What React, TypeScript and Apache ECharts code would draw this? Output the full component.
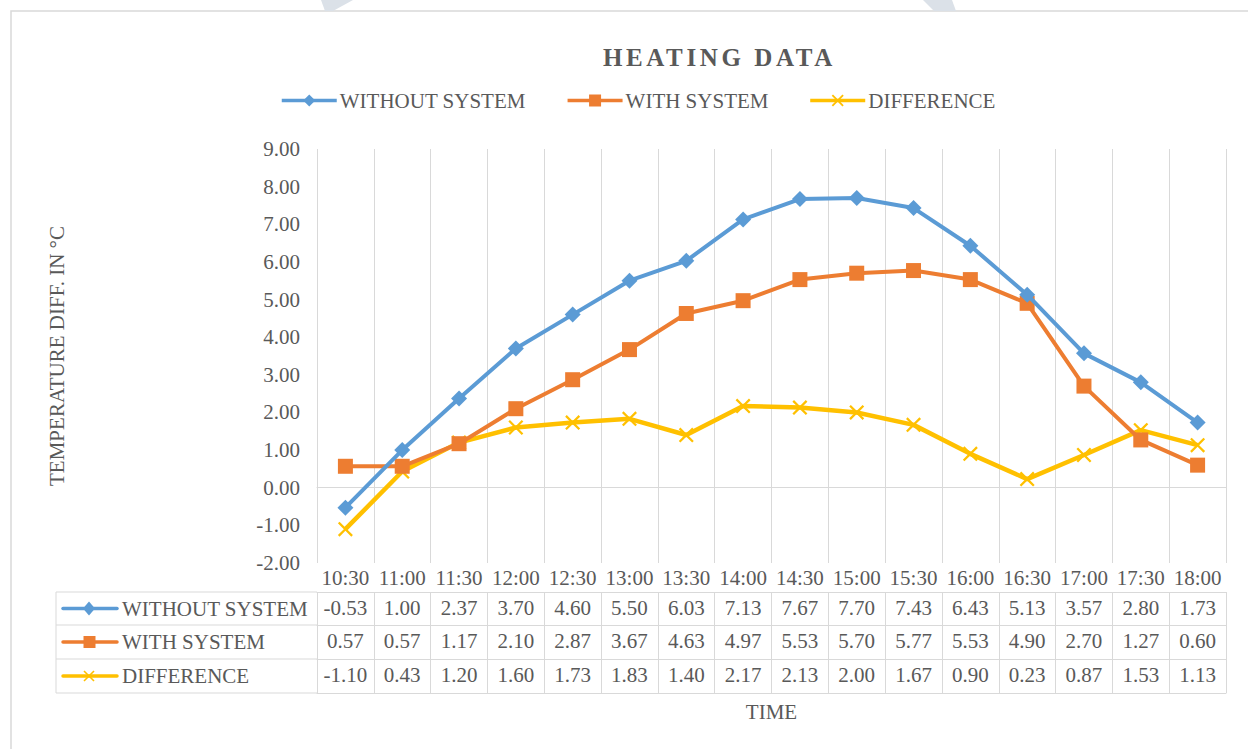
import React, { useEffect, useRef } from "react";
import * as echarts from "echarts";

const times = ["10:30","11:00","11:30","12:00","12:30","13:00","13:30","14:00","14:30","15:00","15:30","16:00","16:30","17:00","17:30","18:00"];
const withoutSystem = [-0.53,1.00,2.37,3.70,4.60,5.50,6.03,7.13,7.67,7.70,7.43,6.43,5.13,3.57,2.80,1.73];
const withSystem = [0.57,0.57,1.17,2.10,2.87,3.67,4.63,4.97,5.53,5.70,5.77,5.53,4.90,2.70,1.27,0.60];
const difference = [-1.10,0.43,1.20,1.60,1.73,1.83,1.40,2.17,2.13,2.00,1.67,0.90,0.23,0.87,1.53,1.13];
const seriesNames = ["WITHOUT SYSTEM", "WITH SYSTEM", "DIFFERENCE"];
const seriesValues = [withoutSystem, withSystem, difference];
const yTicks = { min: -2, max: 9, interval: 1 };

const COLORS = ["#5B9BD5", "#ED7D31", "#FFC000"];
const FONT = '"Liberation Serif", "Times New Roman", serif';
const TXT = "#595959";
const GRID_C = "#d9d9d9";
const X_PATH = "path://M0,1.5L1.5,0L7,5.5L12.5,0L14,1.5L8.5,7L14,12.5L12.5,14L7,8.5L1.5,14L0,12.5L5.5,7Z";
const SYMBOLS = ["diamond", "rect", X_PATH];
const SYM_SIZES = [16, 15, 15];

// layout
const PL = 317, PR = 1226, PT = 149, PB = 563;
const ROWS = [563, 592, 625, 659, 693];
const TABLE_L = 56;

export default function App() {
  const ref = useRef<HTMLDivElement>(null);
  useEffect(() => {
    const chart = echarts.init(ref.current!, null, { renderer: "svg" });
    const fs = 21;
    const labelStyle = { fontFamily: FONT, fontSize: fs, color: TXT, lineHeight: 22 };

    const xAxes: any[] = [
      {
        type: "category", gridIndex: 0, position: "bottom", offset: 0,
        data: times, boundaryGap: true,
        axisLine: { show: true, lineStyle: { color: GRID_C, width: 1 } },
        axisTick: { show: true, interval: 0, length: ROWS[1] - ROWS[0], lineStyle: { color: GRID_C, width: 1 } },
        axisLabel: { ...labelStyle, interval: 0, margin: 4 },
        splitLine: { show: true, interval: 0, lineStyle: { color: GRID_C, width: 1 } },
      },
    ];
    seriesValues.forEach((vals, i) => {
      xAxes.push({
        type: "category", gridIndex: 0, position: "bottom", offset: ROWS[i + 1] - PB,
        data: vals.map((v) => v.toFixed(2)), boundaryGap: true,
        axisLine: { show: true, lineStyle: { color: GRID_C, width: 1 } },
        axisTick: { show: true, interval: 0, length: ROWS[i + 2] - ROWS[i + 1], lineStyle: { color: GRID_C, width: 1 } },
        axisLabel: { ...labelStyle, interval: 0, margin: 5 },
        splitLine: { show: false },
      });
    });
    xAxes.push({
      type: "category", gridIndex: 0, position: "bottom", offset: ROWS[4] - PB,
      data: times, boundaryGap: true,
      axisLine: { show: true, lineStyle: { color: GRID_C, width: 1 } },
      axisTick: { show: false },
      axisLabel: { show: false },
      splitLine: { show: false },
      name: "TIME", nameLocation: "middle", nameGap: 8,
      nameTextStyle: { fontFamily: FONT, fontSize: fs, color: TXT, verticalAlign: "top" },
    });

    const graphic: any[] = [
      { type: "rect", shape: { x: 11, y: 11, width: 1260, height: 800 }, style: { fill: "none", stroke: GRID_C, lineWidth: 1.5 }, z: -1 },
      { type: "polygon", shape: { points: [[321, 0], [353, 0], [333, 11], [325, 11]] }, style: { fill: "#dbe1e8" } },
      { type: "polygon", shape: { points: [[923, 0], [952, 0], [956, 11], [934, 11]] }, style: { fill: "#dbe1e8" } },
    ];
    for (let r = 1; r < ROWS.length; r++) {
      graphic.push({ type: "line", shape: { x1: TABLE_L, y1: ROWS[r], x2: PL, y2: ROWS[r] }, style: { stroke: GRID_C, lineWidth: 1 } });
    }
    graphic.push({ type: "line", shape: { x1: TABLE_L, y1: ROWS[1], x2: TABLE_L, y2: ROWS[4] }, style: { stroke: GRID_C, lineWidth: 1 } });
    seriesNames.forEach((name, i) => {
      const cy = (ROWS[i + 1] + ROWS[i + 2]) / 2;
      const c = COLORS[i];
      graphic.push({ type: "line", shape: { x1: 63, y1: cy, x2: 117, y2: cy }, style: { stroke: c, lineWidth: 3.5, lineCap: "round" } });
      if (i === 0) graphic.push({ type: "polygon", shape: { points: [[89, cy - 7], [95, cy], [89, cy + 7], [83, cy]] }, style: { fill: c } });
      if (i === 1) graphic.push({ type: "rect", shape: { x: 83.5, y: cy - 6, width: 12, height: 12 }, style: { fill: c } });
      if (i === 2) {
        graphic.push({ type: "line", shape: { x1: 84, y1: cy - 5, x2: 94, y2: cy + 5 }, style: { stroke: c, lineWidth: 1.6 } });
        graphic.push({ type: "line", shape: { x1: 84, y1: cy + 5, x2: 94, y2: cy - 5 }, style: { stroke: c, lineWidth: 1.6 } });
      }
      graphic.push({ type: "text", x: 122, y: cy, style: { text: name, fontFamily: FONT, fontSize: fs, fill: TXT, verticalAlign: "middle", align: "left" } });
    });

    const option: any = {
      animation: false,
      backgroundColor: "#ffffff",
      textStyle: { fontFamily: FONT },
      title: {
        text: "HEATING DATA", left: 598, top: 40,
        textStyle: { fontFamily: FONT, fontSize: 25, fontWeight: "bold", color: TXT },
      },
      legend: {
        top: 85, left: 275, itemWidth: 55, itemHeight: 15, itemGap: 40,
        lineStyle: { width: 3.5 },
        textStyle: { fontFamily: FONT, fontSize: fs, color: TXT, padding: [0, 0, 0, -2] },
        data: seriesNames,
      },
      grid: { left: PL, right: 1248 - PR, top: PT, bottom: 749 - PB, containLabel: false },
      xAxis: xAxes,
      yAxis: {
        type: "value", min: yTicks.min, max: yTicks.max, interval: yTicks.interval,
        axisLine: { show: false }, axisTick: { show: false }, splitLine: { show: false },
        axisLabel: { fontFamily: FONT, fontSize: fs, color: TXT, margin: 17, formatter: (v: number) => v.toFixed(2) },
        name: "TEMPERATURE DIFF. IN °C", nameLocation: "middle", nameGap: 250, nameRotate: 90,
        nameTextStyle: { fontFamily: FONT, fontSize: fs, color: TXT },
      },
      series: seriesNames.map((name, i) => ({
        name, type: "line", xAxisIndex: 0, data: seriesValues[i],
        symbol: SYMBOLS[i], symbolSize: SYM_SIZES[i], showAllSymbol: true,
        lineStyle: { color: COLORS[i], width: i === 2 ? 4.5 : 4 },
        itemStyle: { color: COLORS[i] },
        z: 3 - i,
      })),
      graphic,
    };
    chart.setOption(option);
    const texts = ref.current!.querySelectorAll("text");
    texts.forEach((t) => {
      if (t.textContent === "HEATING DATA") (t as any).style.letterSpacing = "3.6px";
    });
    return () => chart.dispose();
  }, []);
  return <div ref={ref} style={{ position: "fixed", left: 0, top: 0, width: 1248, height: 749, background: "#fff" }} />;
}
